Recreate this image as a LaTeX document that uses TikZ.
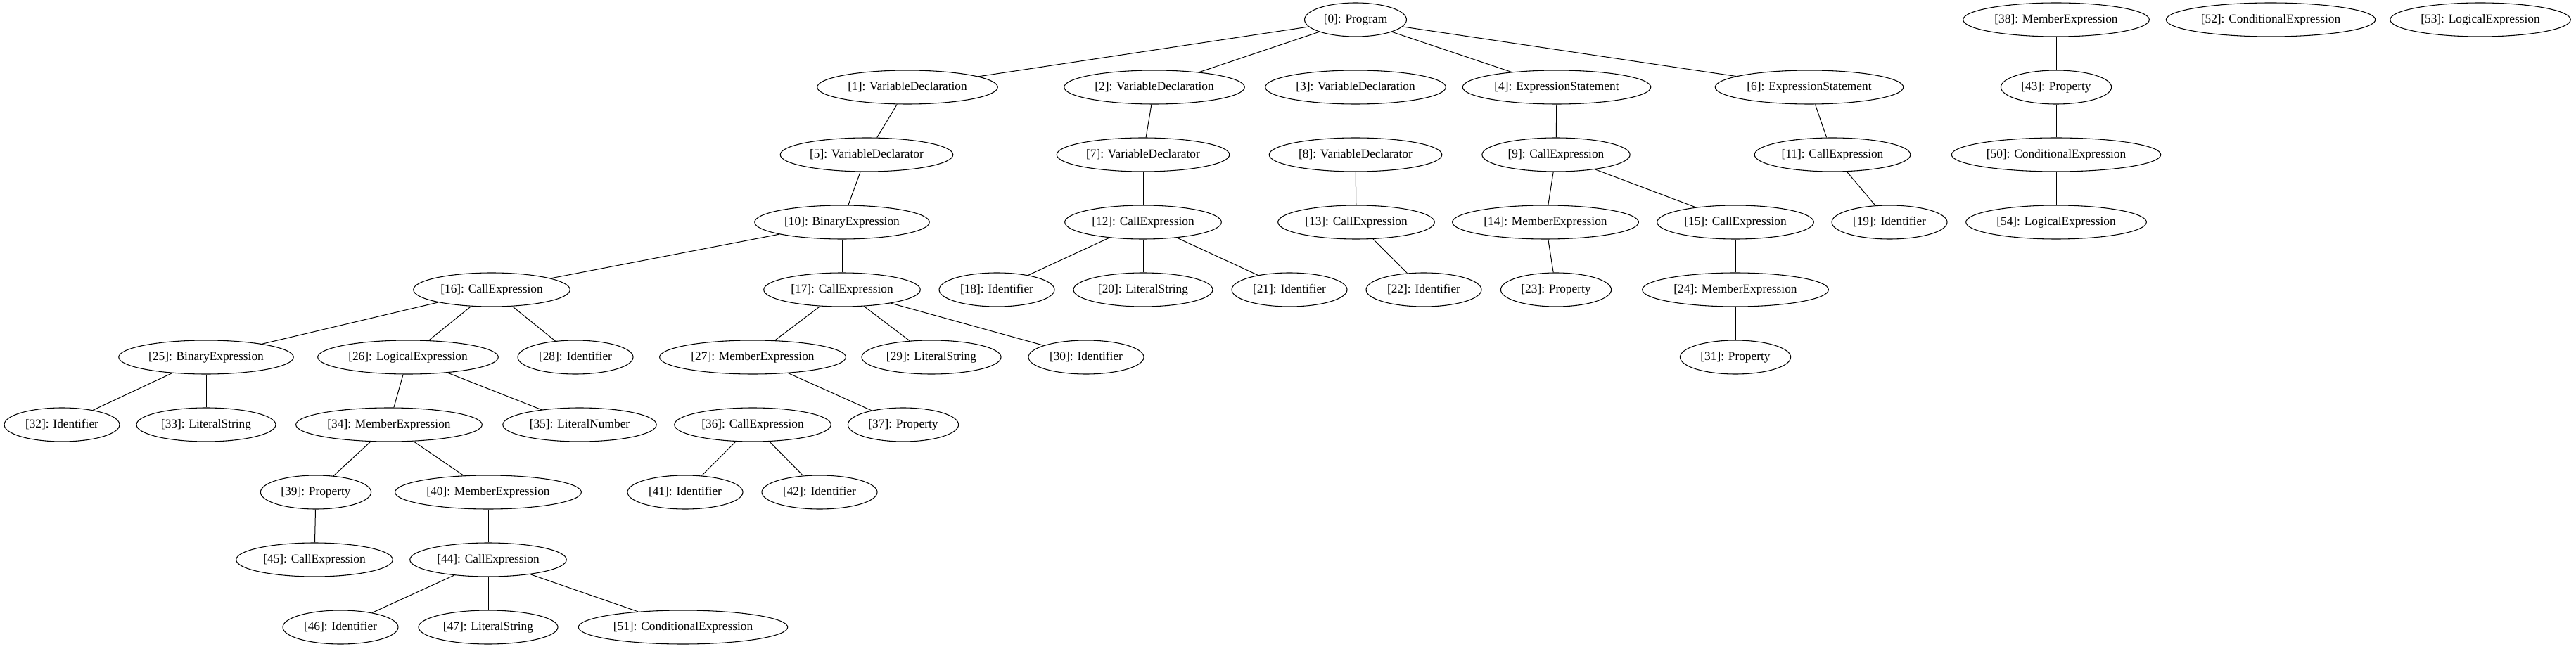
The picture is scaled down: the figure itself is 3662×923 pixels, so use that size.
\documentclass[tikz,border=0pt]{standalone}
\usepackage{fontspec}
\setmainfont{Liberation Serif}
\usetikzlibrary{shapes.geometric}
\begin{document}
\begin{tikzpicture}[x=0.75pt,y=-0.75pt,
  gn/.style={ellipse, draw, line width=0.8pt, inner xsep=4.5pt, inner ysep=0pt,
    minimum height=36pt, font=\fontsize{13}{15}\selectfont},
  ed/.style={line width=0.75pt}]
\fill[white] (0,0) rectangle (3662,923);
\useasboundingbox (0,0) rectangle (3662,923);
% row 0
\node[gn] (n0) at (1927,28) {[0]: Program};
\node[gn] (n38) at (2923,28) {[38]: MemberExpression};
\node[gn] (n52) at (3228,28) {[52]: ConditionalExpression};
\node[gn] (n53) at (3526,28) {[53]: LogicalExpression};
% row 1
\node[gn] (n1) at (1290,124) {[1]: VariableDeclaration};
\node[gn] (n2) at (1641,124) {[2]: VariableDeclaration};
\node[gn] (n3) at (1927,124) {[3]: VariableDeclaration};
\node[gn] (n4) at (2213,124) {[4]: ExpressionStatement};
\node[gn] (n6) at (2572,124) {[6]: ExpressionStatement};
\node[gn] (n43) at (2923,124) {[43]: Property};
% row 2
\node[gn] (n5) at (1232,220) {[5]: VariableDeclarator};
\node[gn] (n7) at (1625,220) {[7]: VariableDeclarator};
\node[gn] (n8) at (1927,220) {[8]: VariableDeclarator};
\node[gn] (n9) at (2212,220) {[9]: CallExpression};
\node[gn] (n11) at (2605,220) {[11]: CallExpression};
\node[gn] (n50) at (2923,220) {[50]: ConditionalExpression};
% row 3
\node[gn] (n10) at (1197,316) {[10]: BinaryExpression};
\node[gn] (n12) at (1625,316) {[12]: CallExpression};
\node[gn] (n13) at (1928,316) {[13]: CallExpression};
\node[gn] (n14) at (2197,316) {[14]: MemberExpression};
\node[gn] (n15) at (2467,316) {[15]: CallExpression};
\node[gn] (n19) at (2686,316) {[19]: Identifier};
\node[gn] (n54) at (2923,316) {[54]: LogicalExpression};
% row 4
\node[gn] (n16) at (699,412) {[16]: CallExpression};
\node[gn] (n17) at (1197,412) {[17]: CallExpression};
\node[gn] (n18) at (1417,412) {[18]: Identifier};
\node[gn] (n20) at (1625,412) {[20]: LiteralString};
\node[gn] (n21) at (1833,412) {[21]: Identifier};
\node[gn] (n22) at (2024,412) {[22]: Identifier};
\node[gn] (n23) at (2212,412) {[23]: Property};
\node[gn] (n24) at (2467,412) {[24]: MemberExpression};
% row 5
\node[gn] (n25) at (293,508) {[25]: BinaryExpression};
\node[gn] (n26) at (580,508) {[26]: LogicalExpression};
\node[gn] (n28) at (818,508) {[28]: Identifier};
\node[gn] (n27) at (1070,508) {[27]: MemberExpression};
\node[gn] (n29) at (1324,508) {[29]: LiteralString};
\node[gn] (n30) at (1544,508) {[30]: Identifier};
\node[gn] (n31) at (2467,508) {[31]: Property};
% row 6
\node[gn] (n32) at (88,604) {[32]: Identifier};
\node[gn] (n33) at (293,604) {[33]: LiteralString};
\node[gn] (n34) at (553,604) {[34]: MemberExpression};
\node[gn] (n35) at (824,604) {[35]: LiteralNumber};
\node[gn] (n36) at (1070,604) {[36]: CallExpression};
\node[gn] (n37) at (1284,604) {[37]: Property};
% row 7
\node[gn] (n39) at (449,700) {[39]: Property};
\node[gn] (n40) at (694,700) {[40]: MemberExpression};
\node[gn] (n41) at (974,700) {[41]: Identifier};
\node[gn] (n42) at (1165,700) {[42]: Identifier};
% row 8
\node[gn] (n45) at (447,796) {[45]: CallExpression};
\node[gn] (n44) at (694,796) {[44]: CallExpression};
% row 9
\node[gn] (n46) at (484,892) {[46]: Identifier};
\node[gn] (n47) at (694,892) {[47]: LiteralString};
\node[gn] (n51) at (971,892) {[51]: ConditionalExpression};
% edges
\foreach \a/\b in {0/1,0/2,0/3,0/4,0/6,1/5,2/7,3/8,4/9,6/11,5/10,7/12,8/13,
  9/14,9/15,11/19,10/16,10/17,12/18,12/20,12/21,13/22,14/23,15/24,
  16/25,16/26,16/28,17/27,17/29,17/30,24/31,25/32,25/33,26/34,26/35,
  27/36,27/37,34/39,34/40,36/41,36/42,39/45,40/44,44/46,44/47,44/51,
  38/43,43/50,50/54}
  \draw[ed] (n\a) -- (n\b);
\end{tikzpicture}
\end{document}
